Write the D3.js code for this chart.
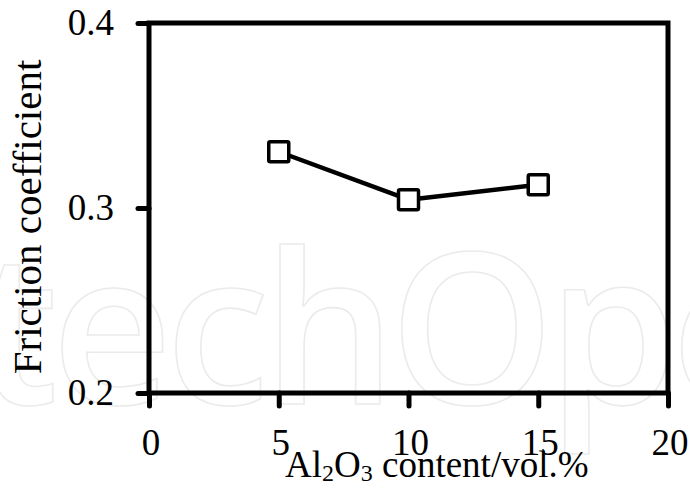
<!DOCTYPE html>
<html><head><meta charset="utf-8">
<script src="https://cdn.jsdelivr.net/npm/d3@7"></script>
<style>html,body{margin:0;padding:0;background:#fff;}svg{display:block;}</style>
</head><body>
<script>
const xValues = [5, 10, 15];
const frictionValues = [0.3304, 0.3045, 0.3126];
const xTicks = [0, 5, 10, 15, 20];
const yTicks = [0.2, 0.3, 0.4];
const xTitle = ["Al", "2", "O", "3", " content/vol.%"];
const yTitle = "Friction coefficient";
const watermark = "IntechOpen";

const W = 690, H = 492;
const serif = "Liberation Serif";
const svg = d3.select("body").append("svg").attr("width", W).attr("height", H);

// faint watermark
svg.append("text")
  .attr("x", -208).attr("y", 404)
  .attr("font-family", "Open Sans").attr("font-weight", 600)
  .attr("font-size", 210)
  .attr("letter-spacing", -7)
  .attr("fill", "none").attr("stroke", "#ebebeb").attr("stroke-width", 1.6)
  .text(watermark);

const x = d3.scaleLinear().domain([0, 20]).range([149, 668]);
const y = d3.scaleLinear().domain([0.2, 0.4]).range([393, 23]);

// frame
svg.append("rect")
  .attr("x", x(0)).attr("y", y(0.4))
  .attr("width", x(20) - x(0)).attr("height", y(0.2) - y(0.4))
  .attr("fill", "none").attr("stroke", "#000").attr("stroke-width", 5);

const gx = svg.append("g").attr("transform", `translate(0,${y(0.2)})`)
  .call(d3.axisBottom(x).tickValues(xTicks).tickSize(13).tickFormat(d3.format("d")));
const gy = svg.append("g").attr("transform", `translate(${x(0)},0)`)
  .call(d3.axisLeft(y).tickValues(yTicks).tickSize(11).tickPadding(24).tickFormat(d3.format(".1f")));
[gx, gy].forEach(g => {
  g.attr("font-family", serif).attr("font-size", 37);
  g.select(".domain").remove();
  g.selectAll(".tick line").attr("stroke", "#000").attr("stroke-width", 5).attr("stroke-linecap", "round");
  g.selectAll(".tick text").attr("fill", "#000");
});
gx.selectAll(".tick text").attr("y", 62).attr("dy", 0).attr("dx", 1.5);

// line + markers
const data = xValues.map((v, i) => ({x: v, y: frictionValues[i]}));
svg.append("path").datum(data)
  .attr("fill", "none").attr("stroke", "#000").attr("stroke-width", 4.5)
  .attr("stroke-linejoin", "round")
  .attr("d", d3.line().x(d => x(d.x)).y(d => y(d.y)));
const s = 20;
svg.selectAll("rect.m").data(data).enter().append("rect").attr("class", "m")
  .attr("x", d => x(d.x) - s / 2).attr("y", d => y(d.y) - s / 2)
  .attr("width", s).attr("height", s).attr("rx", 1.5)
  .attr("fill", "#fff").attr("stroke", "#000").attr("stroke-width", 3.5);

// axis titles
const xt = svg.append("text").attr("x", 285).attr("y", 477)
  .attr("font-family", serif).attr("font-size", 37).attr("fill", "#000");
xTitle.forEach((t, i) => {
  const ts = xt.append("tspan").text(t);
  if (i === 1 || i === 3) ts.attr("font-size", 24).attr("dy", 4);
  else if (i === 2 || i === 4) ts.attr("dy", -4);
});
svg.append("text")
  .attr("transform", `translate(41,217) rotate(-90)`)
  .attr("text-anchor", "middle")
  .attr("font-family", serif).attr("font-size", 41).attr("fill", "#000")
  .text(yTitle);
</script>
</body></html>
